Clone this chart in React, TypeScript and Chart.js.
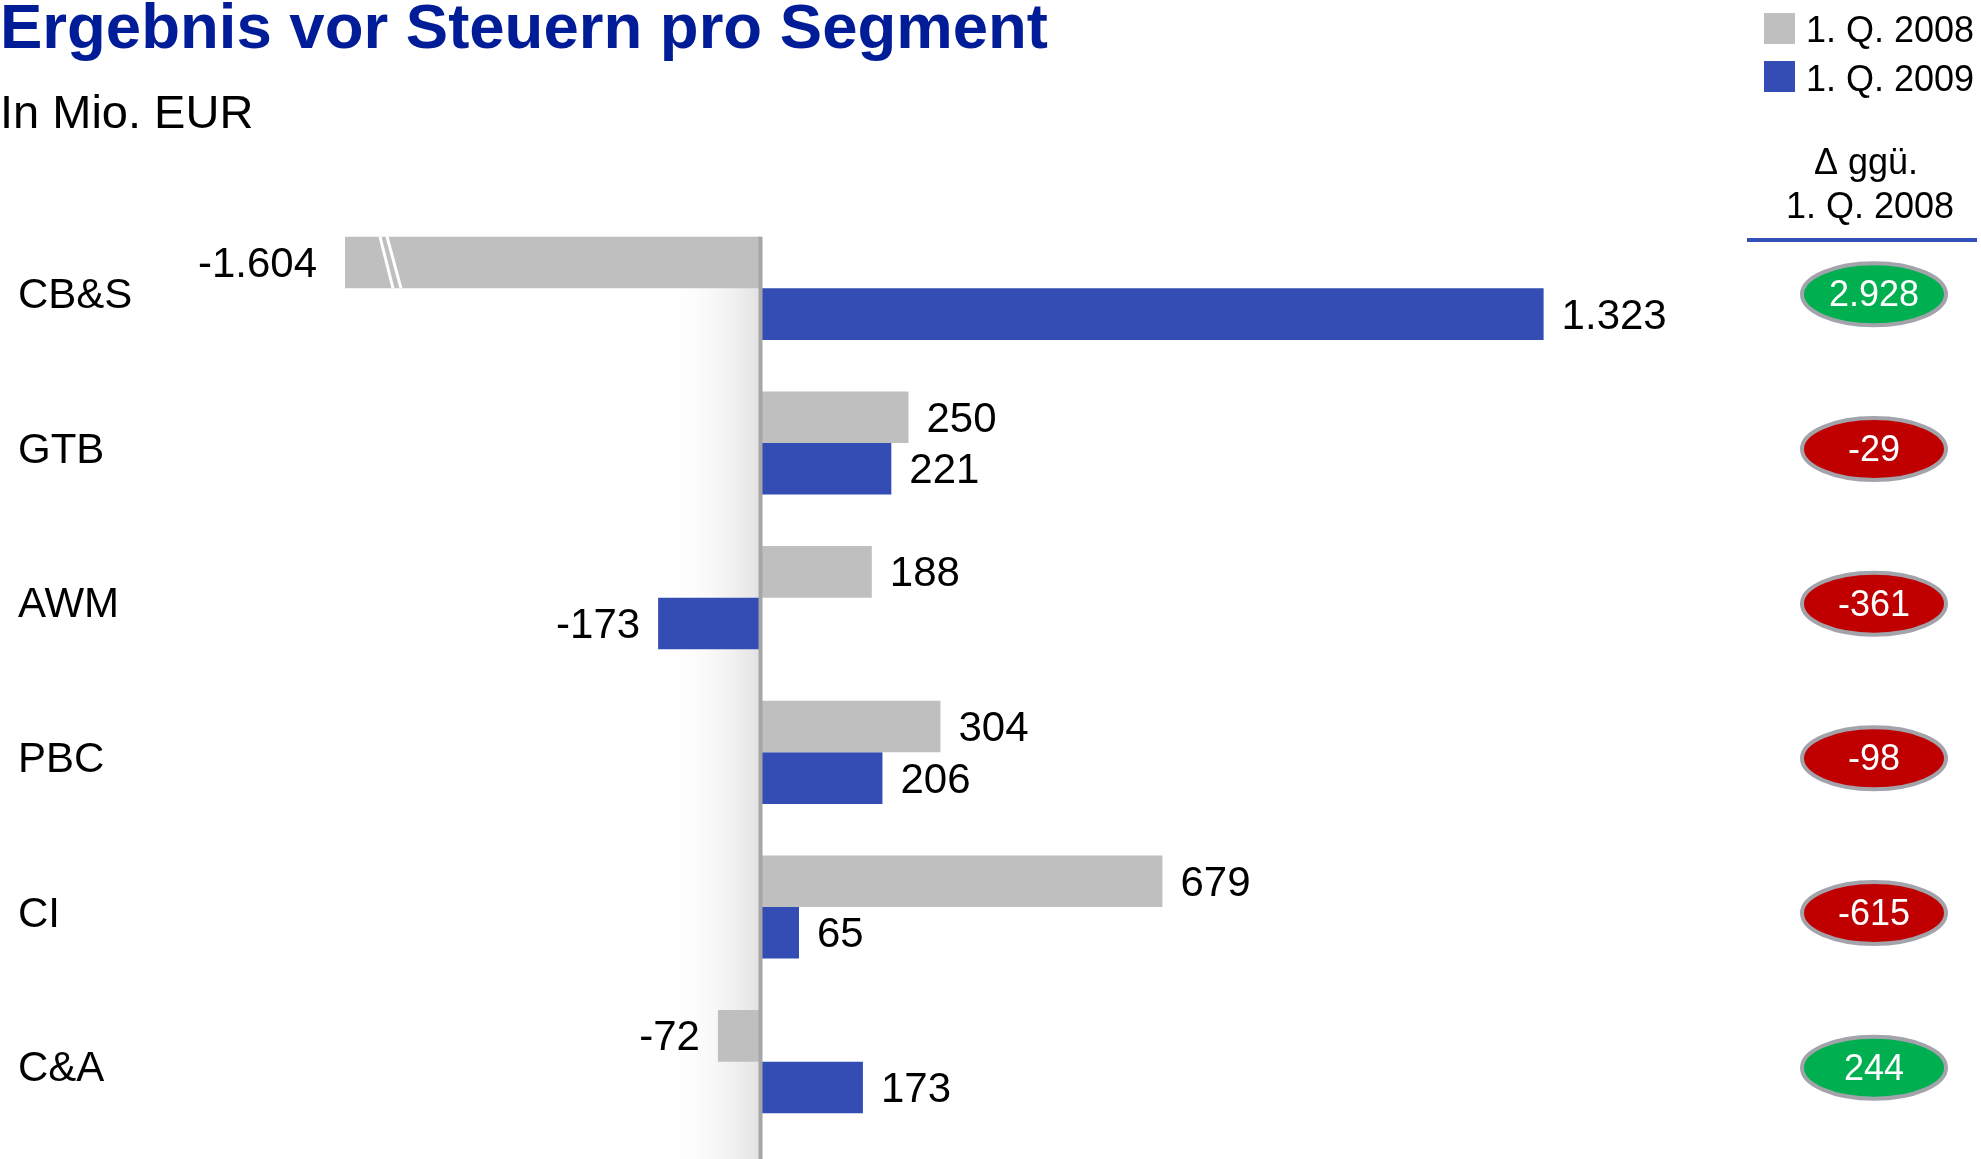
import React, { useEffect, useRef } from 'react';
import { Chart, registerables } from 'chart.js';

Chart.register(...registerables);

const categories = ['CB&S', 'GTB', 'AWM', 'PBC', 'CI', 'C&A'];
const q2008 = [-1604, 250, 188, 304, 679, -72];
const q2009 = [1323, 221, -173, 206, 65, 173];
const deltaValues = [2928, -29, -361, -98, -615, 244];
const seriesLabels = ['1. Q. 2008', '1. Q. 2009'];
const titleText = 'Ergebnis vor Steuern pro Segment';
const subtitleText = 'In Mio. EUR';
const deltaHeader = ['Δ ggü.', '1. Q. 2008'];
const axisMin = -702;
const axisMax = 1621;

const FONT = '"Liberation Sans", Arial, Helvetica, sans-serif';
const GREY = '#BFBFBF';
const BLUE = '#334DB5';
const TITLE_BLUE = '#001C96';
const GREEN = '#00B050';
const RED = '#C00000';

function fmt(v: number): string {
  const s = Math.abs(v).toString().replace(/\B(?=(\d{3})+(?!\d))/g, '.');
  return (v < 0 ? '-' : '') + s;
}

const decorPlugin = {
  id: 'decor',
  beforeDatasetsDraw(chart: any) {
    const { ctx } = chart;
    const x0 = chart.scales.x.getPixelForValue(0);
    const first = chart.getDatasetMeta(0).data[0];
    const top = first.y - first.height / 2;
    const g = ctx.createLinearGradient(x0 - 95, 0, x0, 0);
    g.addColorStop(0, 'rgba(255,255,255,0)');
    g.addColorStop(1, '#E2E2E2');
    ctx.save();
    ctx.fillStyle = g;
    ctx.fillRect(x0 - 95, top, 95, chart.height - top);
    ctx.restore();
  },
  afterDatasetsDraw(chart: any) {
    const { ctx, chartArea } = chart;
    const xs = chart.scales.x;
    const x0 = xs.getPixelForValue(0);
    const first = chart.getDatasetMeta(0).data[0];
    const top = first.y - first.height / 2;

    ctx.save();
    // break marks on clipped bars
    chart.data.datasets.forEach((ds: any, di: number) => {
      const meta = chart.getDatasetMeta(di);
      meta.data.forEach((el: any, i: number) => {
        const v = ds.data[i];
        if (xs.getPixelForValue(v) < chartArea.left) {
          const t = el.y - el.height / 2;
          const b = el.y + el.height / 2;
          const L = chartArea.left;
          ctx.strokeStyle = '#FFFFFF';
          ctx.lineWidth = 3;
          ctx.beginPath();
          ctx.moveTo(L + 35, t);
          ctx.lineTo(L + 48, b);
          ctx.moveTo(L + 42, t);
          ctx.lineTo(L + 56, b);
          ctx.stroke();
        }
      });
    });

    // axis line
    ctx.strokeStyle = '#A6A6A6';
    ctx.lineWidth = 4;
    ctx.beginPath();
    ctx.moveTo(x0, top);
    ctx.lineTo(x0, chart.height);
    ctx.stroke();

    // value labels
    ctx.font = '42px ' + FONT;
    ctx.fillStyle = '#000000';
    ctx.textBaseline = 'middle';
    chart.data.datasets.forEach((ds: any, di: number) => {
      const meta = chart.getDatasetMeta(di);
      meta.data.forEach((el: any, i: number) => {
        const v = ds.data[i];
        const px = xs.getPixelForValue(v);
        if (v >= 0) {
          ctx.textAlign = 'left';
          ctx.fillText(fmt(v), px + 18, el.y + 3);
        } else {
          ctx.textAlign = 'right';
          if (px < chartArea.left) {
            ctx.fillText(fmt(v), chartArea.left - 28, el.y + 3);
          } else {
            ctx.fillText(fmt(v), px - 18, el.y + 3);
          }
        }
      });
    });
    ctx.restore();
  },
  afterDraw(chart: any) {
    const { ctx } = chart;
    const ys = chart.scales.y;
    ctx.save();
    // title
    ctx.textBaseline = 'alphabetic';
    ctx.textAlign = 'left';
    ctx.fillStyle = TITLE_BLUE;
    ctx.font = 'bold 63.5px ' + FONT;
    ctx.fillText(titleText, 0, 48);
    ctx.fillStyle = '#000000';
    ctx.font = '47px ' + FONT;
    ctx.fillText(subtitleText, 0, 128);

    // legend
    const colors = [GREY, BLUE];
    const sqTop = [13, 61];
    const txtBase = [42, 91];
    ctx.font = '36px ' + FONT;
    seriesLabels.forEach((lab, i) => {
      ctx.fillStyle = colors[i];
      ctx.fillRect(1764, sqTop[i], 31, 31);
      ctx.fillStyle = '#000000';
      ctx.textAlign = 'left';
      ctx.fillText(lab, 1806, txtBase[i]);
    });

    // delta header
    ctx.textAlign = 'center';
    ctx.fillText(deltaHeader[0], 1866, 174);
    ctx.fillText(deltaHeader[1], 1870, 218);
    ctx.strokeStyle = '#3550B8';
    ctx.lineWidth = 4;
    ctx.beginPath();
    ctx.moveTo(1747, 240);
    ctx.lineTo(1977, 240);
    ctx.stroke();

    // ellipses
    deltaValues.forEach((d, i) => {
      const cy = ys.getPixelForValue(i) + 6;
      const cx = 1874;
      ctx.beginPath();
      ctx.ellipse(cx, cy, 72, 31, 0, 0, Math.PI * 2);
      ctx.fillStyle = d >= 0 ? GREEN : RED;
      ctx.fill();
      ctx.strokeStyle = '#A3A3AB';
      ctx.lineWidth = 4;
      ctx.stroke();
      ctx.fillStyle = '#FFFFFF';
      ctx.font = '36px ' + FONT;
      ctx.textAlign = 'center';
      ctx.textBaseline = 'middle';
      ctx.fillText(fmt(d), cx, cy + 2);
      ctx.textBaseline = 'alphabetic';
    });
    ctx.restore();
  },
};

export default function App() {
  const ref = useRef<HTMLCanvasElement | null>(null);
  useEffect(() => {
    if (!ref.current) return;
    const chart = new Chart(ref.current, {
      type: 'bar',
      data: {
        labels: categories,
        datasets: [
          { label: seriesLabels[0], data: q2008, backgroundColor: GREY, clip: 0 as any },
          { label: seriesLabels[1], data: q2009, backgroundColor: BLUE, clip: 0 as any },
        ],
      },
      options: {
        indexAxis: 'y',
        animation: false,
        responsive: false,
        devicePixelRatio: 1,
        layout: { padding: { left: 18, right: 261, top: 211, bottom: 20 } },
        datasets: { bar: { categoryPercentage: 0.667, barPercentage: 1 } },
        plugins: {
          legend: { display: false },
          title: { display: false },
          tooltip: { enabled: false },
        },
        scales: {
          x: {
            type: 'linear',
            min: axisMin,
            max: axisMax,
            display: false,
          },
          y: {
            type: 'category',
            grid: { display: false },
            border: { display: false },
            ticks: {
              crossAlign: 'far',
              labelOffset: 8,
              color: '#000000',
              font: { size: 42, family: FONT },
            },
            afterFit: (scale: any) => {
              scale.width = 327;
              scale.paddingTop = 0;
              scale.paddingBottom = 0;
            },
          },
        },
      } as any,
      plugins: [decorPlugin],
    });
    return () => chart.destroy();
  }, []);
  return (
    <div style={{ position: 'absolute', left: 0, top: 0, width: 1981, height: 1159, background: '#FFFFFF' }}>
      <canvas ref={ref} width={1981} height={1159} style={{ width: 1981, height: 1159, display: 'block' }} />
    </div>
  );
}
